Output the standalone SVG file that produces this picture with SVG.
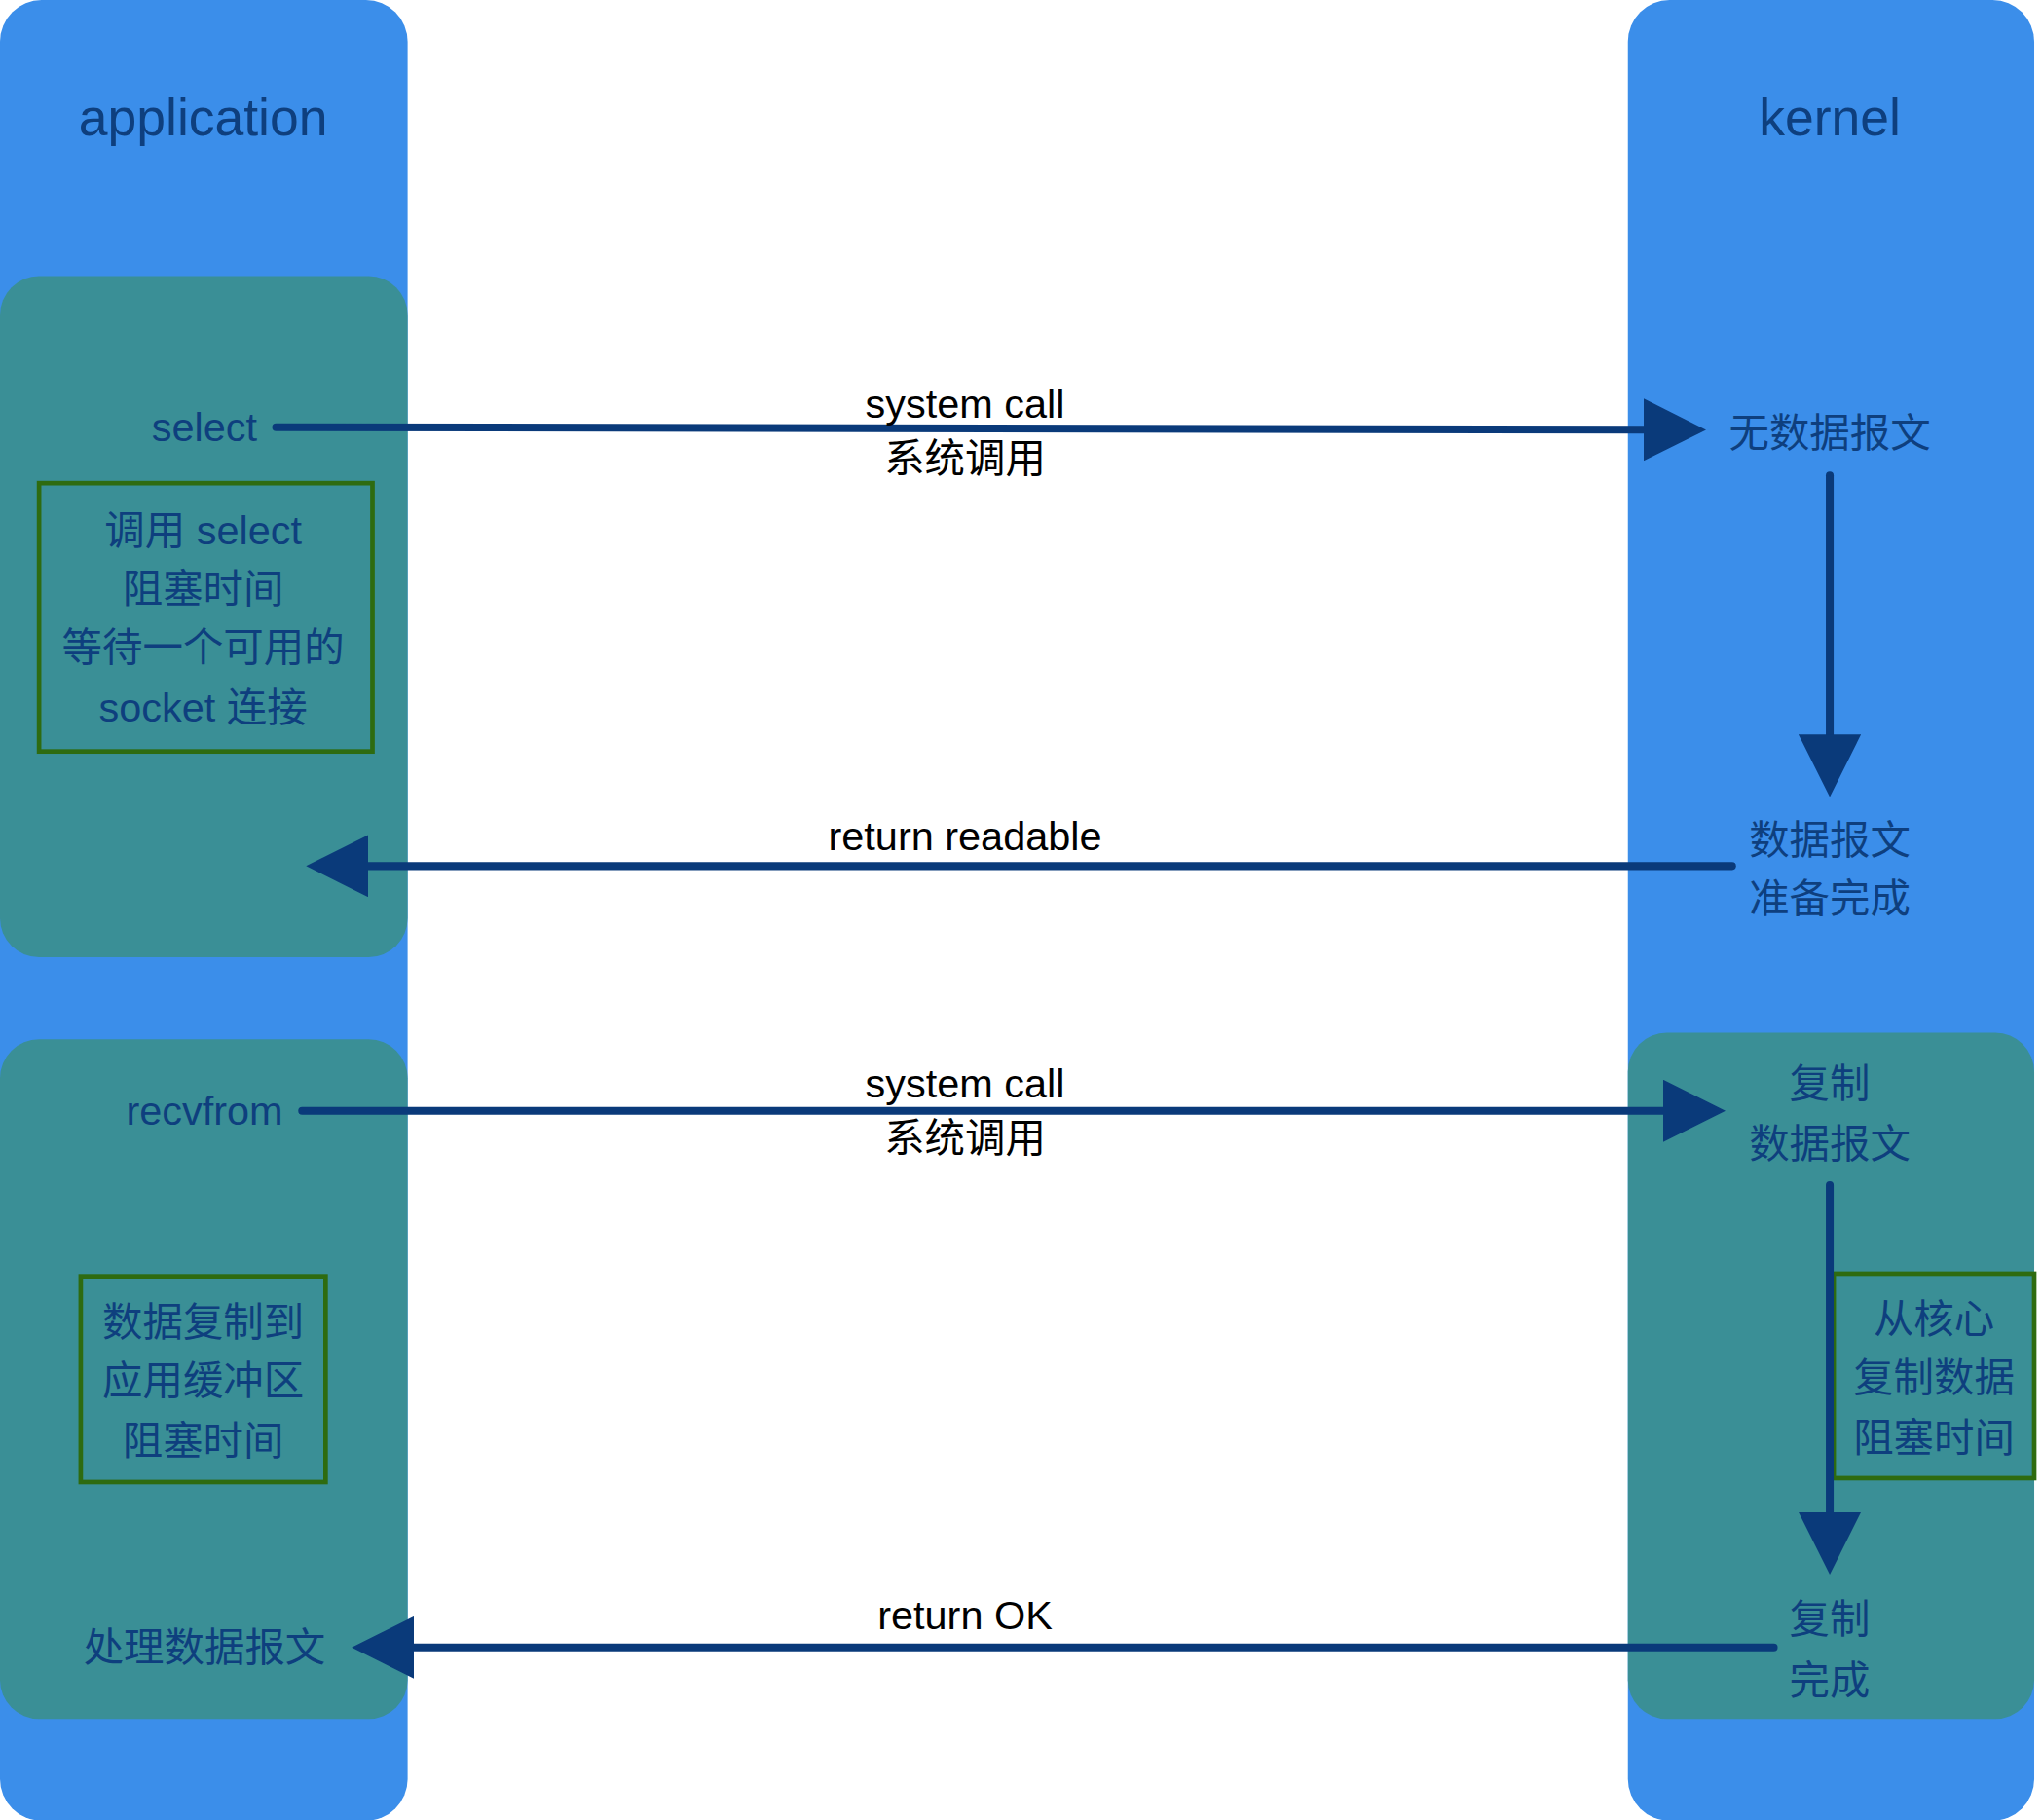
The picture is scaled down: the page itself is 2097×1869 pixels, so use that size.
<svg xmlns="http://www.w3.org/2000/svg" width="2097" height="1869" viewBox="0 0 2097 1869">
<style>
.col{fill:#3B8EEA}
.blk{fill:#3A8F96}
.t{font-family:"Liberation Sans","Noto Sans CJK SC",sans-serif;font-size:31px;fill:#0E3F7E;text-anchor:middle;dominant-baseline:central}
.h{font-size:40px}
.lbl{font-family:"Liberation Sans","Noto Sans CJK SC",sans-serif;font-size:31px;fill:#000;text-anchor:middle;dominant-baseline:central}
.ln{stroke:#0A3A7A;stroke-width:6;fill:none;stroke-linecap:round}
.bx{fill:none;stroke:#2E6B10;stroke-width:3.5}
</style>
<defs>
<marker id="ah" markerWidth="8" markerHeight="8" refX="1" refY="4" orient="auto" markerUnits="strokeWidth">
<path d="M0,0 L8,4 L0,8 z" fill="#0A3A7A"/>
</marker>
</defs>
<rect width="2097" height="1869" fill="#fff"/>
<g transform="scale(1.3374)">
<g id="application">
<rect class="col" x="0" y="0" width="313" height="1398" rx="32"/>
<text class="t h" x="156" y="90">application</text>
</g>
<g id="kernel">
<rect class="col" x="1250" y="0" width="312" height="1398" rx="32"/>
<text class="t h" x="1405" y="90">kernel</text>
</g>
<g id="app-select-block"><rect class="blk" x="0" y="212" width="313" height="523" rx="30"/></g>
<g id="app-recv-block"><rect class="blk" x="0" y="798" width="313" height="522" rx="30"/></g>
<g id="kernel-copy-block"><rect class="blk" x="1250" y="793" width="312" height="527" rx="30"/></g>
<g id="select"><text class="t" x="157" y="328">select</text></g>
<g id="select-note">
<rect class="bx" x="30" y="371" width="256" height="206"/>
<text class="t" x="156" y="407">调用 select</text>
<text class="t" x="156" y="452">阻塞时间</text>
<text class="t" x="156" y="497">等待一个可用的</text>
<text class="t" x="156" y="543">socket 连接</text>
</g>
<g id="nodata"><text class="t" x="1405" y="332">无数据报文</text></g>
<g id="ready"><text class="t" x="1405" y="645">数据报文</text><text class="t" x="1405" y="690">准备完成</text></g>
<g id="recvfrom"><text class="t" x="157" y="853">recvfrom</text></g>
<g id="copy"><text class="t" x="1405" y="832">复制</text><text class="t" x="1405" y="878">数据报文</text></g>
<g id="kernel-note">
<rect class="bx" x="1408" y="978" width="154" height="157"/>
<text class="t" x="1485" y="1013">从核心</text>
<text class="t" x="1485" y="1058">复制数据</text>
<text class="t" x="1485" y="1104">阻塞时间</text>
</g>
<g id="recv-note">
<rect class="bx" x="62" y="980" width="188" height="158"/>
<text class="t" x="156" y="1015">数据复制到</text>
<text class="t" x="156" y="1060">应用缓冲区</text>
<text class="t" x="156" y="1106">阻塞时间</text>
</g>
<g id="copydone"><text class="t" x="1405" y="1243">复制</text><text class="t" x="1405" y="1290">完成</text></g>
<g id="process"><text class="t" x="157" y="1265">处理数据报文</text></g>
<g id="connectors">
<line class="ln" x1="212" y1="328" x2="1268" y2="330" marker-end="url(#ah)"/>
<line class="ln" x1="1405" y1="365" x2="1405" y2="570" marker-end="url(#ah)"/>
<line class="ln" x1="1330" y1="665" x2="277" y2="665" marker-end="url(#ah)"/>
<line class="ln" x1="232" y1="853" x2="1283" y2="853" marker-end="url(#ah)"/>
<line class="ln" x1="1405" y1="910" x2="1405" y2="1167" marker-end="url(#ah)"/>
<line class="ln" x1="1362" y1="1265" x2="312" y2="1265" marker-end="url(#ah)"/>
<text class="lbl" x="741" y="310">system call</text>
<text class="lbl" x="741" y="352">系统调用</text>
<text class="lbl" x="741" y="642">return readable</text>
<text class="lbl" x="741" y="832">system call</text>
<text class="lbl" x="741" y="874">系统调用</text>
<text class="lbl" x="741" y="1240">return OK</text>
</g>
</g>
</svg>
